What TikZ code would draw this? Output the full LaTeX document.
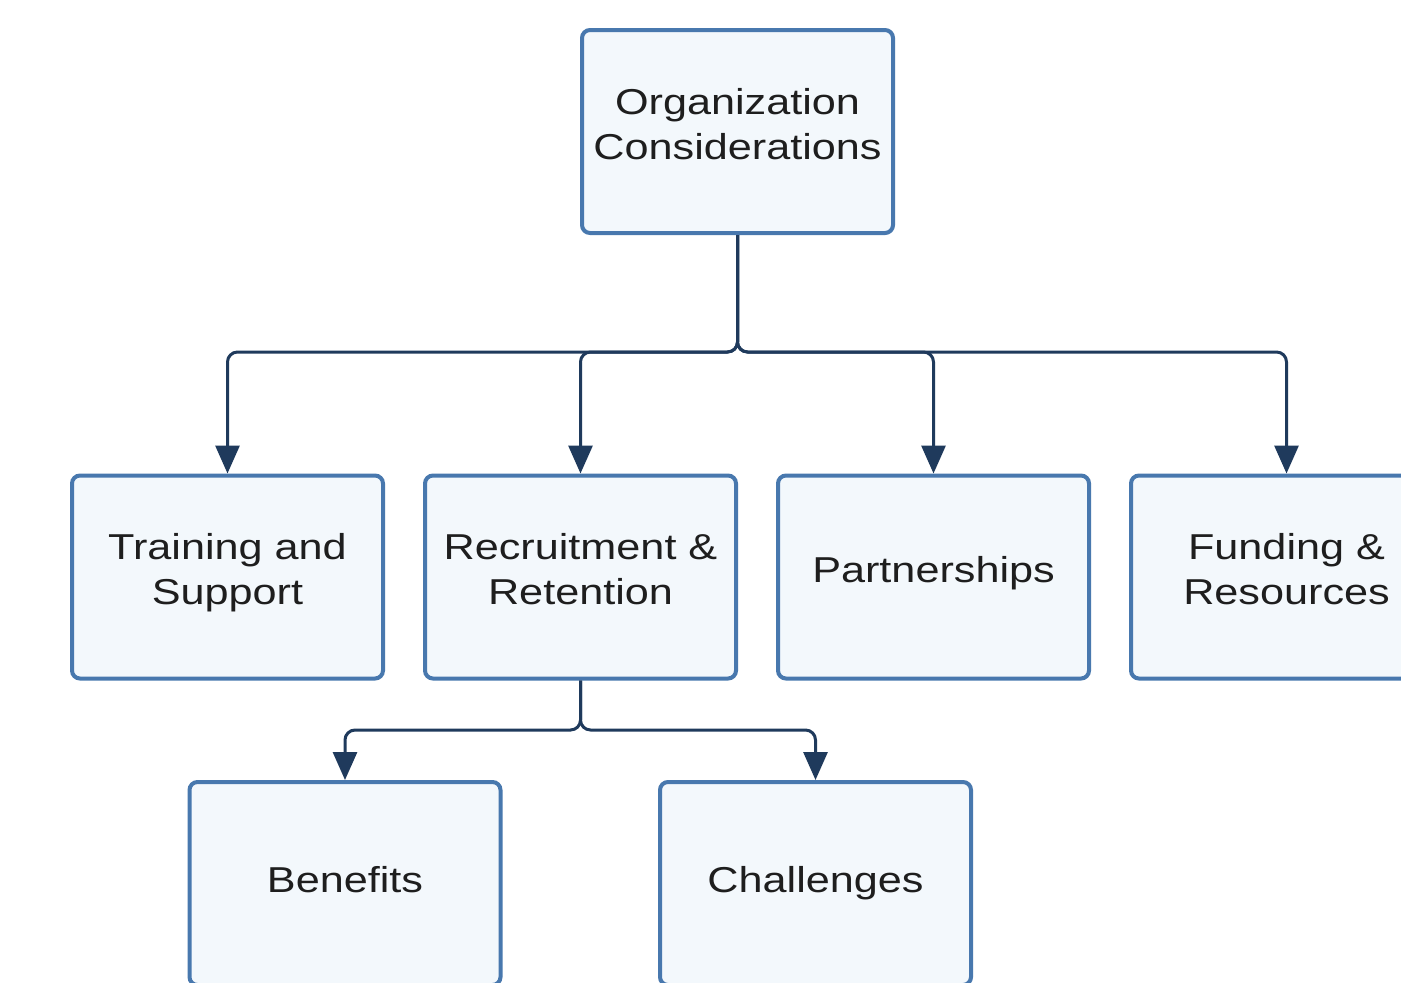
\documentclass[tikz,border=0pt]{standalone}
\usepackage{fontspec}
\setmainfont{Liberation Sans}[FakeStretch=1.2]
\usetikzlibrary{arrows.meta}
\definecolor{boxline}{RGB}{72,120,174}
\definecolor{boxfill}{RGB}{243,248,252}
\definecolor{wire}{RGB}{31,58,92}
\definecolor{ink}{RGB}{30,30,30}
% fixed line box so every label line sits on the same baseline grid
\newcommand{\tstrut}{\rule[-8.75pt]{0pt}{22.5pt}}
% taller line box: sets a single line a little lower in its box
\newcommand{\lowstrut}{\rule[-8.75pt]{0pt}{26.5pt}}
\begin{document}
\begin{tikzpicture}[x=0.5pt,y=-0.5pt,
  topic/.style={draw=boxline, fill=boxfill, line width=2pt, rounded corners=4pt,
    minimum width=155.5pt, minimum height=101.5pt, align=center, text=ink,
    font=\fontsize{18pt}{22.5pt}\selectfont, inner sep=0pt},
  link/.style={draw=wire, line width=1.5pt, rounded corners=5pt,
    -{Triangle[length=14pt,width=12pt]}}]
\useasboundingbox (0,0) rectangle (1401,982);
\clip (0,0) rectangle (1401,982);
\fill[white] (0,0) rectangle (1401,982);

% top level
\node[topic] (org) at (737.5,131.5) {\tstrut Organization\\\tstrut Considerations};

% second level
\node[topic] (train) at (227.5,577) {\tstrut Training and\\\tstrut Support};
\node[topic] (recr)  at (580.5,577) {\tstrut Recruitment \&\\\tstrut Retention};
\node[topic] (part)  at (933.5,577) {\tstrut Partnerships};
\node[topic] (fund)  at (1286.5,577) {\tstrut Funding \&\\\tstrut Resources};

% third level
\node[topic] (ben) at (345,883.5) {\lowstrut Benefits};
\node[topic] (chal) at (815.5,883.5) {\lowstrut Challenges};

% connectors
\draw[link] (org.south) -- (737.5,352) -| (train.north);
\draw[link] (org.south) -- (737.5,352) -| (recr.north);
\draw[link] (org.south) -- (737.5,352) -| (part.north);
\draw[link] (org.south) -- (737.5,352) -| (fund.north);
\draw[link] (recr.south) -- (580.5,730) -| (ben.north);
\draw[link] (recr.south) -- (580.5,730) -| (chal.north);
\end{tikzpicture}
\end{document}
